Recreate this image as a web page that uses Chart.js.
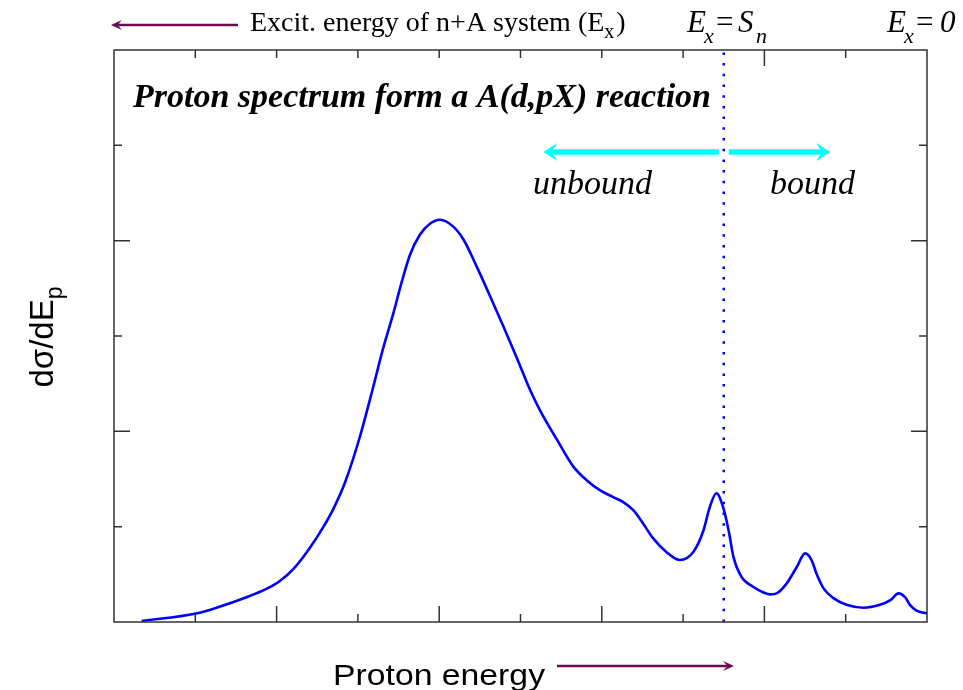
<!DOCTYPE html>
<html>
<head>
<meta charset="utf-8">
<script src="https://cdn.jsdelivr.net/npm/chart.js@4.4.1/dist/chart.umd.min.js"></script>
<style>
  html, body { margin: 0; padding: 0; background: #fff; }
  #wrap { width: 963px; height: 690px; }
</style>
</head>
<body>
<div id="wrap"><canvas id="myChart" width="963" height="690"></canvas></div>
<script>
// proton energy (arb. units) and cross section dσ/dE_p (arb. units)
const energy = [0.34, 1.01, 1.26, 1.63, 1.88, 2.04, 2.21, 2.41, 2.57, 2.70, 2.84, 3.02, 3.19, 3.31, 3.44,
  3.54, 3.64, 3.76, 3.89, 4.01, 4.17, 4.30, 4.46, 4.63, 4.79, 4.95, 5.12, 5.24, 5.45, 5.65, 5.81, 5.98,
  6.14, 6.26, 6.39, 6.51, 6.63, 6.80, 6.96, 7.13, 7.25, 7.33, 7.41, 7.49, 7.56, 7.62, 7.72, 7.86, 7.99,
  8.07, 8.15, 8.27, 8.40, 8.50, 8.58, 8.64, 8.73, 8.85, 9.01, 9.22, 9.42, 9.55, 9.65, 9.73, 9.79, 9.87, 10.00];
const dsigma = [0.01, 0.09, 0.15, 0.26, 0.35, 0.43, 0.56, 0.78, 0.99, 1.19, 1.46, 1.93, 2.47, 2.87, 3.25,
  3.57, 3.85, 4.06, 4.18, 4.22, 4.15, 4.01, 3.73, 3.41, 3.10, 2.78, 2.43, 2.22, 1.91, 1.63, 1.49, 1.38,
  1.31, 1.26, 1.17, 1.03, 0.88, 0.73, 0.65, 0.74, 0.96, 1.21, 1.35, 1.21, 0.96, 0.68, 0.47, 0.37, 0.31,
  0.29, 0.30, 0.40, 0.58, 0.72, 0.65, 0.51, 0.35, 0.25, 0.18, 0.15, 0.18, 0.23, 0.30, 0.26, 0.18, 0.12, 0.09];

// neutron separation threshold (E_x = S_n) on the proton energy axis
const separationEnergy = 7.5;

const xTicks = [1, 2, 3, 4, 5, 6, 7, 8, 9];
const yTicks = [1, 2, 3, 4, 5];

const SERIF = '"Liberation Serif", "Times New Roman", serif';
const SANS = '"Liberation Sans", Arial, sans-serif';
const PURPLE = '#6b0a4f';

// draw a sequence of text pieces (for sub/superscripts)
function drawRuns(ctx, x, y, runs) {
  runs.forEach(r => {
    ctx.font = r.font;
    ctx.fillText(r.t, x + (r.dx || 0), y + (r.dy || 0));
    x += ctx.measureText(r.t).width + (r.dx || 0);
  });
  return x;
}

function runsWidth(ctx, runs) {
  let w = 0;
  runs.forEach(r => { ctx.font = r.font; w += ctx.measureText(r.t).width + (r.dx || 0); });
  return w;
}

// pieces placed at fixed x offsets
function drawPlaced(ctx, x, y, pieces) {
  pieces.forEach(p => {
    ctx.font = p.font;
    ctx.fillText(p.t, x + p.at, y + (p.dy || 0));
  });
}

function arrow(ctx, x1, y, x2, color, lw, headLen, headHalf) {
  const dir = Math.sign(x2 - x1);
  ctx.save();
  ctx.strokeStyle = color;
  ctx.fillStyle = color;
  ctx.lineWidth = lw;
  ctx.beginPath();
  ctx.moveTo(x1, y);
  ctx.lineTo(x2 - dir * headLen * 0.6, y);
  ctx.stroke();
  ctx.beginPath();
  ctx.moveTo(x2, y);
  ctx.lineTo(x2 - dir * headLen, y - headHalf);
  ctx.lineTo(x2 - dir * headLen * 0.6, y);
  ctx.lineTo(x2 - dir * headLen, y + headHalf);
  ctx.closePath();
  ctx.fill();
  ctx.restore();
}

const decorations = {
  id: 'decorations',
  afterDraw(chart) {
    const ctx = chart.ctx;
    const a = chart.chartArea;
    const xs = chart.scales.x, ys = chart.scales.y;

    // frame and inward ticks
    ctx.save();
    ctx.strokeStyle = '#333';
    ctx.lineWidth = 1.5;
    ctx.strokeRect(a.left, a.top, a.right - a.left, a.bottom - a.top);
    ctx.beginPath();
    xTicks.forEach(v => {
      const px = xs.getPixelForValue(v);
      const bl = v % 2 === 0 ? 16 : 8;
      const tl = v === 8 ? 16 : 8;
      ctx.moveTo(px, a.bottom); ctx.lineTo(px, a.bottom - bl);
      ctx.moveTo(px, a.top); ctx.lineTo(px, a.top + tl);
    });
    yTicks.forEach(v => {
      const py = ys.getPixelForValue(v);
      const l = v % 2 === 0 ? 16 : 8;
      ctx.moveTo(a.left, py); ctx.lineTo(a.left + l, py);
      ctx.moveTo(a.right, py); ctx.lineTo(a.right - l, py);
    });
    ctx.stroke();
    ctx.restore();

    ctx.save();
    ctx.fillStyle = '#000';
    ctx.textBaseline = 'alphabetic';

    // top axis caption
    arrow(ctx, 238, 25, 111, PURPLE, 2.4, 11, 5);
    drawRuns(ctx, 250, 31, [
      { t: 'Excit. energy of n+A system (E', font: `28px ${SERIF}` },
      { t: 'x', font: `20px ${SERIF}`, dy: 7 },
      { t: ')', font: `28px ${SERIF}`, dx: 2 }
    ]);

    // threshold markers
    const it = `italic 31px ${SERIF}`, sub = `italic 22px ${SERIF}`, rm = `31px ${SERIF}`;
    drawPlaced(ctx, 687, 32, [
      { t: 'E', font: it, at: 0 },
      { t: 'x', font: sub, at: 17, dy: 11 },
      { t: '=', font: rm, at: 29 },
      { t: 'S', font: it, at: 51 },
      { t: 'n', font: sub, at: 69, dy: 11 }
    ]);
    drawPlaced(ctx, 887, 32, [
      { t: 'E', font: it, at: 0 },
      { t: 'x', font: sub, at: 17, dy: 11 },
      { t: '=', font: rm, at: 29 },
      { t: '0', font: it, at: 53 }
    ]);

    // title inside the frame
    ctx.font = `bold italic 34px ${SERIF}`;
    ctx.fillText('Proton spectrum form a A(d,pX) reaction', 133, 107);

    // unbound / bound regions
    const yArrow = ys.getPixelForValue(4.93);
    const xs0 = xs.getPixelForValue(separationEnergy);
    arrow(ctx, xs0 - 5, yArrow, xs.getPixelForValue(5.28), '#00ffff', 5.5, 14, 9);
    arrow(ctx, xs0 + 5, yArrow, xs.getPixelForValue(8.81), '#00ffff', 5.5, 14, 9);
    ctx.font = `italic 34px ${SERIF}`;
    ctx.fillText('unbound', 533, 194);
    ctx.fillText('bound', 770, 194);

    // x axis title
    ctx.font = `29px ${SANS}`;
    const w = ctx.measureText('Proton energy').width;
    ctx.save();
    ctx.translate(333, 685);
    ctx.scale(212 / w, 1);
    ctx.fillText('Proton energy', 0, 0);
    ctx.restore();
    arrow(ctx, 557, 666, 734, PURPLE, 2.4, 11, 5);

    // y axis title, rotated
    const yl = [
      { t: 'dσ/dE', font: `33px ${SANS}` },
      { t: 'p', font: `23px ${SANS}`, dy: 9 }
    ];
    const tw = runsWidth(ctx, yl);
    ctx.save();
    ctx.translate(53, 337);
    ctx.rotate(-Math.PI / 2);
    drawRuns(ctx, -tw / 2, 0, yl);
    ctx.restore();

    ctx.restore();
  }
};

const ctx = document.getElementById('myChart').getContext('2d');
new Chart(ctx, {
  type: 'line',
  data: {
    datasets: [
      {
        data: energy.map((e, i) => ({ x: e, y: dsigma[i] })),
        borderColor: '#0000ff',
        borderWidth: 2.6,
        pointRadius: 0,
        cubicInterpolationMode: 'monotone'
      },
      {
        data: [{ x: separationEnergy, y: 0 }, { x: separationEnergy, y: 6 }],
        borderColor: '#0000ff',
        borderWidth: 2.5,
        borderDash: [2.5, 8.2],
        pointRadius: 0
      }
    ]
  },
  options: {
    responsive: false,
    animation: false,
    devicePixelRatio: 1,
    layout: { padding: { left: 114, right: 36, top: 50, bottom: 68 } },
    plugins: { legend: { display: false }, tooltip: { enabled: false } },
    scales: {
      x: { type: 'linear', min: 0, max: 10, display: false },
      y: { type: 'linear', min: 0, max: 6, display: false }
    }
  },
  plugins: [decorations]
});
</script>
</body>
</html>
